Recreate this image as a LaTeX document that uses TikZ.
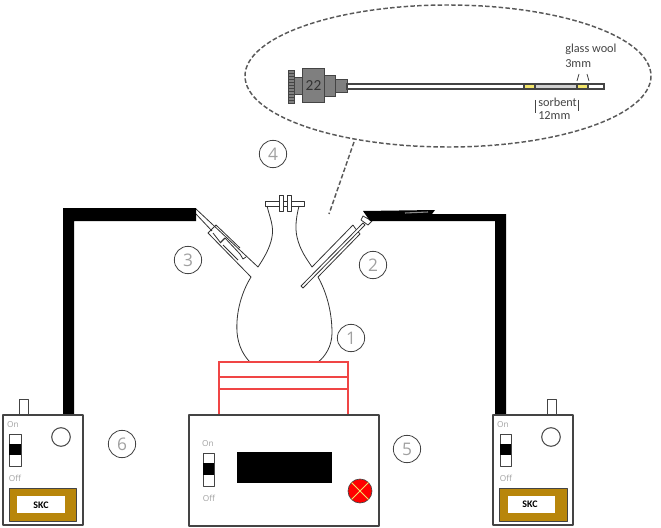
\documentclass[tikz,border=0pt]{standalone}
\usepackage{fontspec}
\setmainfont{Carlito}
\newfontfamily\thinfont{Open Sans}
\definecolor{ink}{HTML}{444444}
\definecolor{steel}{HTML}{7F7F7F}
\definecolor{skcbrown}{HTML}{B8860B}
\definecolor{wool}{HTML}{F2E56B}
\definecolor{heater}{HTML}{F04545}
\definecolor{numgray}{HTML}{A0A0A0}
\tikzset{
  wall/.style={draw=ink,line width=0.75pt,line join=round},
  glass/.style={draw=black!80,line width=0.6pt,line join=round},
  part/.style={draw=ink,line width=0.75pt,fill=steel},
  callout/.style={draw=black!65,line width=1.1pt,dash pattern=on 3.4pt off 1.7pt},
  heat/.style={draw=heater,line width=0.9pt},
  numring/.style={circle,draw=ink,line width=0.6pt,minimum size=20.5pt,inner sep=0pt,
                  text=numgray,font=\thinfont\fontsize{13}{13}\selectfont},
  swlabel/.style={text=numgray,font=\thinfont\fontsize{6.2}{7}\selectfont,inner sep=0pt},
  note/.style={text=ink,font=\fontsize{9.2}{10}\selectfont,inner sep=0pt,anchor=west},
}
\begin{document}
\begin{tikzpicture}[x=0.75pt,y=-0.75pt]
\useasboundingbox (0,0) rectangle (661,528);

% magnified view of the sampling needle
\draw[callout] (448,76) ellipse [x radius=203,y radius=71];
\coordinate (tailtop) at (354,142);
\coordinate (tailend) at (329,214);
\draw[callout] (tailtop) -- (tailend);

\foreach \y in {70,73,...,100}
  \draw[draw=ink,line width=0.4pt,fill=steel] (288,\y) rectangle (294,\y+3);
\draw[part] (294,78) rectangle (302,95);
\draw[part] (302,69) rectangle (324,103);
\draw[part] (324,76) rectangle (335,97);
\draw[part] (335,80) rectangle (347,93);
\node[text=black!80,font=\fontsize{11.5}{12}\selectfont,inner sep=0pt] (gauge) at (313.5,86) {22};

\draw[draw=ink,line width=0.8pt,fill=white] (347,84) rectangle (604,89);
\draw[draw=ink,line width=0.8pt,fill=black!18] (535,84) rectangle (577,89);
\draw[draw=ink,line width=0.8pt,fill=wool] (524,84) rectangle (535,89);
\draw[draw=ink,line width=0.8pt,fill=wool] (577,84) rectangle (588,89);

\node[note] (woolname) at (565,49.5) {glass wool};
\node[note] (woollen) at (565,63.5) {3mm};
\draw[ink,line width=0.6pt] (579,74) -- (577,81);
\draw[ink,line width=0.6pt] (587,74) -- (589,81);
\node[note] (sorbname) at (538,102) {sorbent};
\node[note] (sorblen) at (538,116) {12mm};
\draw[ink,line width=0.7pt] (535,100) -- (535,113);
\draw[ink,line width=0.7pt] (578,100) -- (578,111);

% three-neck flask body
\draw[glass] (267,206) .. controls (270,218) and (274,226) .. (272,237)
  .. controls (270,248) and (264,258) .. (258,267) -- (196,209);
\draw[glass] (299,206) .. controls (296,218) and (295,228) .. (297,237)
  .. controls (300,250) and (306,258) .. (312,267) -- (353,225);
\draw[glass] (251,277) .. controls (240,295) and (236,315) .. (237,332)
  .. controls (238,346) and (244,356) .. (250,362) -- (318,362)
  .. controls (325,357) and (332,346) .. (332,333)
  .. controls (332,315) and (328,295) .. (318,277);
\draw[glass] (251,277) -- (208,233) -- (216,225) -- (240,248);
\draw[glass] (196,214) -- (212,231);
\draw[glass] (318,277) -- (360,234) -- (355,228) -- (353,225);
% centre neck and its clip
\draw[glass] (265,201) rectangle (304,206);
\draw[glass,fill=white] (279,195) rectangle (283,211);
\draw[glass,fill=white] (287,195) rectangle (291,211);
% inlet adapter, left arm
\draw[glass] (213,233) -- (220,242);
\draw[glass,line width=1pt] (220,243) -- (225,238);
\draw[glass] (225,238) -- (240,254) -- (243,259) -- (246,257);
\draw[glass] (223,245) -- (238,260);
% sampling needle, right arm
\draw[glass,fill=white] (301,286) -- (363,223) -- (365,225) -- (303,288) -- cycle;
\draw[glass,fill=white] (363,216) -- (372,221) -- (368,225) -- (361,220) -- cycle;

% hot plate stack
\draw[heat] (219,362) rectangle (348,415);
\draw[heat] (219,377) -- (348,377);
\draw[heat] (219,389) -- (348,389);

% black tubing
\fill[black] (63,415) -- (63,208) -- (196,208) -- (196,221) -- (74,221) -- (74,415) -- cycle;
\fill[black] (363,211) -- (435,210) -- (432,214) -- (506,214) -- (506,415) -- (495,415)
  -- (495,221) -- (375,221) -- (370,221) -- cycle;
\draw[black!45,line width=0.8pt] (405,213) -- (428,212);

% heater control box
\draw[wall,line width=0.9pt,fill=white] (189,415) rectangle (379,526);
\node[swlabel] (hon) at (208,444) {On};
\node[swlabel] (hoff) at (209,498) {Off};
\draw[wall,fill=white] (203,453) rectangle (214,486);
\fill[black] (203,463) rectangle (214,475);
\fill[black] (237,452) rectangle (332,483);
\draw[draw=ink,line width=0.5pt,fill=red] (360,491) circle [radius=12];
\draw[draw=wool,line width=0.6pt] (351.5,482.5) -- (368.5,499.5);
\draw[draw=wool,line width=0.6pt] (351.5,499.5) -- (368.5,482.5);

% left sampling pump
\draw[wall,fill=white] (19,399) rectangle (28,415);
\draw[wall,line width=0.9pt,fill=white] (3,415) rectangle (83,525);
\draw[wall] (61,437) circle [radius=9.3];
\node[swlabel] (lon) at (13,425) {On};
\node[swlabel] (loff) at (15,478) {Off};
\draw[wall,fill=white] (9,434) rectangle (21,466);
\fill[black] (9,444) rectangle (21,455);
\draw[wall,fill=skcbrown] (9,488) rectangle (76,521);
\fill[white] (17,496) rectangle (65,513);
\node[text=black,font=\fontsize{7.5}{8}\selectfont\bfseries,inner sep=0pt] (lskc) at (41,505) {SKC};

% right sampling pump
\draw[wall,fill=white] (547,399) rectangle (556,415);
\draw[wall,line width=0.9pt,fill=white] (493,415) rectangle (573,525);
\draw[wall] (551,437) circle [radius=9.3];
\node[swlabel] (ron) at (503,425) {On};
\node[swlabel] (roff) at (506,478) {Off};
\draw[wall,fill=white] (500,434) rectangle (511,466);
\fill[black] (500,444) rectangle (511,455);
\draw[wall,fill=skcbrown] (499,488) rectangle (567,521);
\fill[white] (508,496) rectangle (555,513);
\node[text=black,font=\fontsize{7.5}{8}\selectfont\bfseries,inner sep=0pt] (rskc) at (530,504) {SKC};

% component numbers
\node[numring] (n1) at (351,338) {1};
\node[numring] (n2) at (373,265) {2};
\node[numring] (n3) at (188,260) {3};
\node[numring] (n4) at (273,154) {4};
\node[numring] (n5) at (407,449) {5};
\node[numring] (n6) at (122,444) {6};
\end{tikzpicture}
\end{document}
